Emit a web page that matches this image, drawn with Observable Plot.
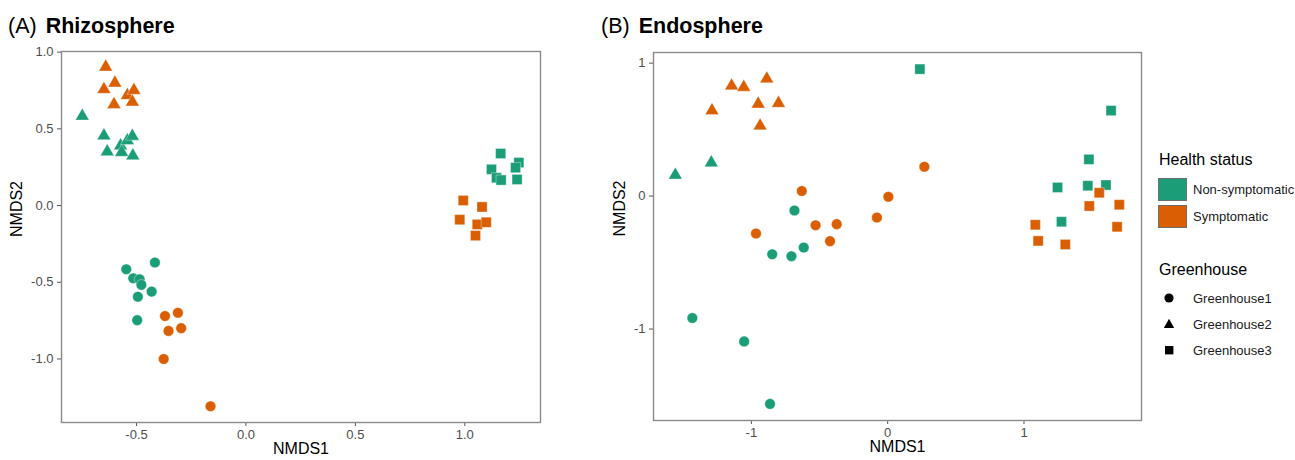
<!DOCTYPE html>
<html>
<head>
<meta charset="utf-8">
<script src="https://cdn.jsdelivr.net/npm/d3@7"></script>
<script src="https://cdn.jsdelivr.net/npm/@observablehq/plot@0.6"></script>
<style>
  body { margin: 0; background: #fff; }
  #root { position: relative; width: 1295px; height: 460px; background: #fff; font-family: "Liberation Sans", Arial, sans-serif; overflow: hidden; }
  .abs { position: absolute; }
  .title { font-size: 21.5px; line-height: 21.5px; color: #000; white-space: nowrap; }
  .title b { font-weight: bold; margin-left: 9px; }
  .lgtitle { font-size: 16px; line-height: 16px; color: #000; white-space: nowrap; }
  .lglabel { font-size: 13px; line-height: 13px; color: #1a1a1a; white-space: nowrap; }
  .swatch { width: 27px; height: 21px; border: 1px solid #6e6e6e; }
</style>
</head>
<body>
<div id="root"></div>
<script>
// ---------- data ----------
const statusLabels = ["Non-symptomatic", "Symptomatic"];
const statusColors = ["#1B9E77", "#D95F02"];
const houseLabels = ["Greenhouse1", "Greenhouse2", "Greenhouse3"];

// (A) Rhizosphere
const rhizoNMDS1 = [
  -0.416, -0.547, -0.515, -0.486, -0.478, -0.431, -0.494, -0.497,
  -0.370, -0.311, -0.354, -0.296, -0.376, -0.162,
  -0.748, -0.649, -0.634, -0.573, -0.568, -0.542, -0.519, -0.517,
  -0.641, -0.599, -0.649, -0.542, -0.512, -0.519, -0.603,
  1.164, 1.122, 1.145, 1.166, 1.247, 1.232, 1.239,
  0.993, 1.079, 0.977, 1.057, 1.098, 1.049
];
const rhizoNMDS2 = [
  -0.371, -0.415, -0.474, -0.480, -0.517, -0.561, -0.594, -0.747,
  -0.720, -0.699, -0.817, -0.799, -1.000, -1.308,
  0.583, 0.455, 0.351, 0.390, 0.347, 0.423, 0.452, 0.325,
  0.903, 0.799, 0.757, 0.718, 0.751, 0.675, 0.659,
  0.339, 0.236, 0.181, 0.166, 0.280, 0.247, 0.170,
  0.033, -0.009, -0.092, -0.123, -0.109, -0.196
];
const rhizoStatus = [
  "N","N","N","N","N","N","N","N",
  "S","S","S","S","S","S",
  "N","N","N","N","N","N","N","N",
  "S","S","S","S","S","S","S",
  "N","N","N","N","N","N","N",
  "S","S","S","S","S","S"
];
const rhizoHouse = [
  1,1,1,1,1,1,1,1,
  1,1,1,1,1,1,
  2,2,2,2,2,2,2,2,
  2,2,2,2,2,2,2,
  3,3,3,3,3,3,3,
  3,3,3,3,3,3
];

// (B) Endosphere
const endoNMDS1 = [
  -0.684, -0.847, -0.706, -0.616, -1.433, -1.053, -0.863,
  -0.630, 0.269, 0.005, -0.079, -0.529, -0.374, -0.966, -0.423,
  -1.558, -1.294,
  -1.145, -1.056, -0.887, -1.289, -0.950, -0.801, -0.936,
  0.236, 1.639, 1.476, 1.246, 1.468, 1.601, 1.275,
  1.552, 1.479, 1.699, 1.083, 1.683, 1.104, 1.303
];
const endoNMDS2 = [
  -0.108, -0.437, -0.452, -0.387, -0.917, -1.093, -1.563,
  0.038, 0.221, -0.005, -0.161, -0.219, -0.211, -0.281, -0.339,
  0.158, 0.251,
  0.829, 0.819, 0.882, 0.643, 0.693, 0.698, 0.528,
  0.955, 0.643, 0.276, 0.065, 0.078, 0.083, -0.193,
  0.025, -0.075, -0.065, -0.216, -0.231, -0.337, -0.364
];
const endoStatus = [
  "N","N","N","N","N","N","N",
  "S","S","S","S","S","S","S","S",
  "N","N",
  "S","S","S","S","S","S","S",
  "N","N","N","N","N","N","N",
  "S","S","S","S","S","S","S"
];
const endoHouse = [
  1,1,1,1,1,1,1,
  1,1,1,1,1,1,1,1,
  2,2,
  2,2,2,2,2,2,2,
  3,3,3,3,3,3,3,
  3,3,3,3,3,3,3
];

// tick values
const rhizoXTicks = [-0.5, 0, 0.5, 1.0];
const rhizoYTicks = [-1.0, -0.5, 0, 0.5, 1.0];
const endoXTicks = [-1, 0, 1];
const endoYTicks = [-1, 0, 1];

// ---------- helpers ----------
function rows(xs, ys, st, hs) {
  return xs.map((x, i) => ({
    x, y: ys[i],
    status: st[i] === "N" ? statusLabels[0] : statusLabels[1],
    house: houseLabels[hs[i] - 1]
  }));
}

const symbolSpec = [
  {house: houseLabels[0], symbol: "circle", r: 5.3},
  {house: houseLabels[1], symbol: "triangle", r: 5.1},
  {house: houseLabels[2], symbol: "square", r: 5.7}
];

function panel({data, xDomain, yDomain, xTicks, yTicks, fmt, width, height, margins, yTitleDx}) {
  const dotMarks = symbolSpec.map(s =>
    Plot.dot(data.filter(d => d.house === s.house), {
      x: "x", y: "y", fill: "status", symbol: s.symbol, r: s.r,
      stroke: "white", strokeWidth: 0.5, strokeOpacity: 0.7
    })
  );
  return Plot.plot({
    width, height,
    marginLeft: margins[0], marginRight: margins[1], marginTop: margins[2], marginBottom: margins[3],
    style: {fontFamily: '"Liberation Sans", Arial, sans-serif', fontSize: "13px", color: "#4d4d4d", background: "transparent", overflow: "visible"},
    x: {domain: xDomain},
    y: {domain: yDomain},
    color: {domain: statusLabels, range: statusColors},
    marks: [
      Plot.axisX({ticks: xTicks, tickFormat: fmt, tickSize: 4, tickPadding: 3, label: null, stroke: "#555", fontSize: 13}),
      Plot.axisY({ticks: yTicks, tickFormat: fmt, tickSize: 4, tickPadding: 4, label: null, stroke: "#555", fontSize: 13}),
      Plot.frame({stroke: "#8a8a8a", strokeWidth: 1.4}),
      ...dotMarks,
      Plot.text(["NMDS1"], {text: d => d, frameAnchor: "bottom", dy: 31, fontSize: 16, fill: "#000"}),
      Plot.text(["NMDS2"], {text: d => d, frameAnchor: "left", rotate: -90, dx: yTitleDx, fontSize: 16, fill: "#000"})
    ]
  });
}

const root = document.getElementById("root");

function place(el, left, top) {
  el.classList.add("abs");
  el.style.left = left + "px";
  el.style.top = top + "px";
  root.appendChild(el);
  return el;
}

// Panel A
const plotA = panel({
  data: rows(rhizoNMDS1, rhizoNMDS2, rhizoStatus, rhizoHouse),
  xDomain: [-0.843, 1.346], yDomain: [-1.414, 1.004],
  xTicks: rhizoXTicks, yTicks: rhizoYTicks, fmt: d => d.toFixed(1),
  width: 560, height: 460, margins: [61, 20, 51, 38], yTitleDx: -45
});
place(plotA, 0, 0);

// Panel B
const plotB = panel({
  data: rows(endoNMDS1, endoNMDS2, endoStatus, endoHouse),
  xDomain: [-1.718, 1.862], yDomain: [-1.688, 1.080],
  xTicks: endoXTicks, yTicks: endoYTicks, fmt: d => String(d),
  width: 570, height: 460, margins: [63, 19, 52, 40], yTitleDx: -34
});
place(plotB, 590, 0);

// Titles
function title(tag, name, left) {
  const d = document.createElement("div");
  d.className = "title";
  d.appendChild(document.createTextNode(tag));
  const b = document.createElement("b");
  b.textContent = name;
  d.appendChild(b);
  place(d, left, 16);
}
title("(A)", "Rhizosphere", 8);
title("(B)", "Endosphere", 601);

// Legend
function text(cls, str, left, top) {
  const d = document.createElement("div");
  d.className = cls;
  d.textContent = str;
  return place(d, left, top);
}
text("lgtitle", "Health status", 1159, 152);
statusLabels.forEach((s, i) => {
  const sw = document.createElement("div");
  sw.className = "swatch";
  sw.style.background = statusColors[i];
  place(sw, 1158, 178 + i * 27);
  text("lglabel", s, 1193, 183 + i * 27);
});
text("lgtitle", "Greenhouse", 1159, 262);
const shapes = [
  '<circle cx="8" cy="8" r="4.6" fill="#000"/>',
  '<path d="M8 2.8 L13.2 12 L2.8 12 Z" fill="#000"/>',
  '<rect x="4" y="4" width="8.4" height="8.4" fill="#000"/>'
];
houseLabels.forEach((h, i) => {
  const s = document.createElementNS("http://www.w3.org/2000/svg", "svg");
  s.setAttribute("width", 16);
  s.setAttribute("height", 16);
  s.innerHTML = shapes[i];
  place(s, 1161, 290 + i * 26);
  text("lglabel", h, 1193, 292 + i * 26);
});
</script>
</body>
</html>
